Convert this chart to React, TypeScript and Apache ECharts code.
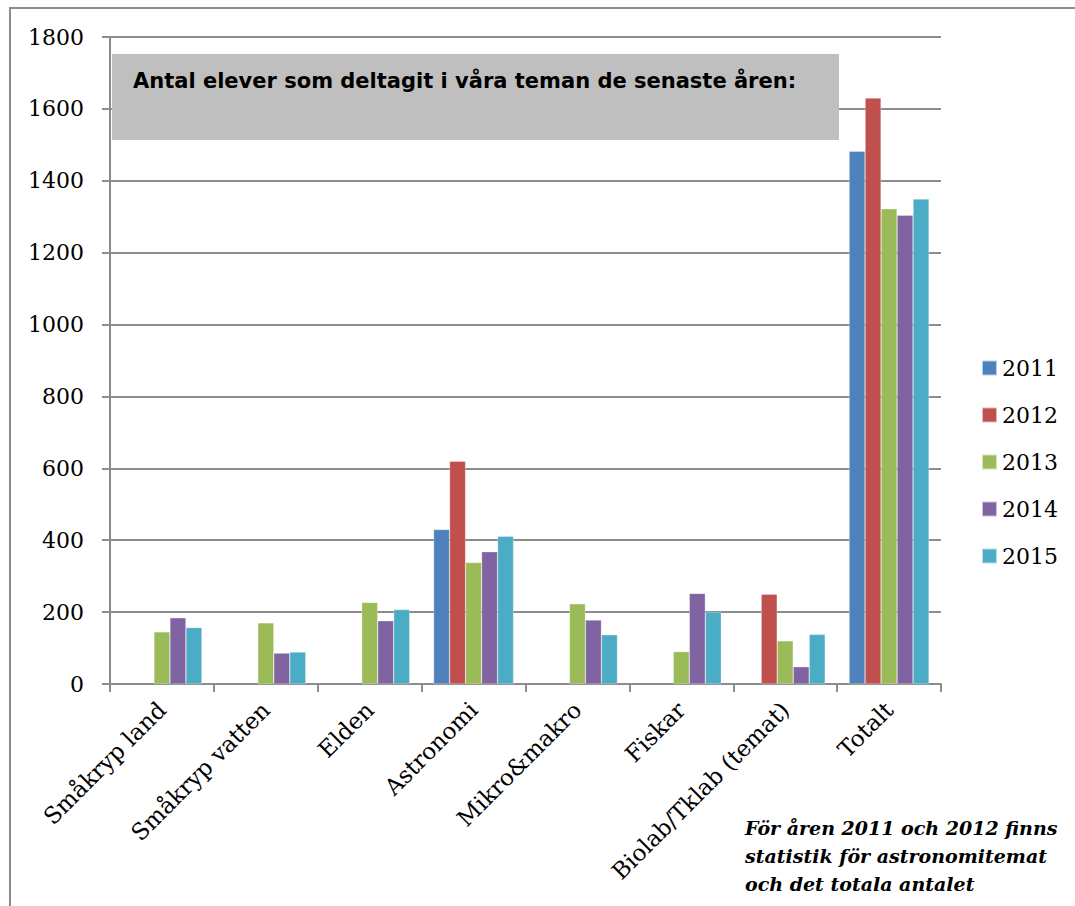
import React, { useEffect, useRef } from "react";
import * as echarts from "echarts";

const categories = [
  "Småkryp land",
  "Småkryp vatten",
  "Elden",
  "Astronomi",
  "Mikro&makro",
  "Fiskar",
  "Biolab/Tklab (temat)",
  "Totalt",
];
const years = ["2011", "2012", "2013", "2014", "2015"];
const v2011 = [null, null, null, 430, null, null, null, 1482];
const v2012 = [null, null, null, 620, null, null, 250, 1630];
const v2013 = [145, 170, 227, 338, 223, 90, 120, 1322];
const v2014 = [184, 86, 176, 368, 178, 252, 48, 1304];
const v2015 = [157, 89, 207, 411, 137, 200, 138, 1349];
const yTicks = { min: 0, max: 1800, interval: 200 };
const colors = ["#4f81bd", "#c0504d", "#9bbb59", "#8064a2", "#4bacc6"];
const titleText = "Antal elever som deltagit i våra teman de senaste åren:";
const noteLines = [
  "För åren 2011 och 2012 finns",
  "statistik för astronomitemat",
  "och det totala antalet",
];

export default function App() {
  const ref = useRef<HTMLDivElement>(null);
  useEffect(() => {
    if (!ref.current) return;
    const chart = echarts.init(ref.current, null, { renderer: "svg" });
    const seriesData = [v2011, v2012, v2013, v2014, v2015];
    const serif = "DejaVu Serif";
    chart.setOption({
      animation: false,
      color: colors,
      grid: { left: 110, top: 37, width: 831, height: 647, containLabel: false },
      legend: {
        orient: "vertical",
        left: 976,
        top: 352,
        itemWidth: 15,
        itemHeight: 15,
        itemGap: 25,
        icon: "rect",
        textStyle: { fontFamily: serif, fontSize: 22, color: "#000" },
        data: years,
      },
      xAxis: {
        type: "category",
        data: categories,
        axisLine: { show: true, lineStyle: { color: "#8c8c8c", width: 2 } },
        axisTick: { show: true, alignWithLabel: false, length: 8, lineStyle: { color: "#8c8c8c", width: 2 } },
        axisLabel: {
          interval: 0,
          rotate: 45,
          margin: 22,
          fontFamily: serif,
          fontSize: 23,
          color: "#000",
        },
        splitLine: { show: false },
      },
      yAxis: {
        type: "value",
        min: yTicks.min,
        max: yTicks.max,
        interval: yTicks.interval,
        axisLine: { show: true, lineStyle: { color: "#8c8c8c", width: 2 } },
        axisTick: { show: true, length: 8, lineStyle: { color: "#8c8c8c", width: 2 } },
        axisLabel: {
          margin: 26,
          fontFamily: serif,
          fontSize: 22,
          color: "#000",
          formatter: (v: number) => String(v),
        },
        splitLine: { show: true, lineStyle: { color: "#8c8c8c", width: 2 } },
      },
      series: years.map((y, i) => ({
        name: y,
        type: "bar",
        data: seriesData[i],
        barGap: "0%",
        barCategoryGap: "23%",
        itemStyle: { color: colors[i], borderColor: "rgba(255,255,255,0.6)", borderWidth: 0.5 },
      })),
      graphic: [
        {
          type: "rect",
          z: 0,
          silent: true,
          shape: { x: 10, y: 8, width: 1100, height: 950 },
          style: { fill: "none", stroke: "#8c8c8c", lineWidth: 2 },
        },
        {
          type: "rect",
          z: 10,
          shape: { x: 112, y: 54, width: 727, height: 86 },
          style: { fill: "#bfbfbf" },
        },
        {
          type: "text",
          z: 11,
          x: 133,
          y: 81,
          style: {
            text: titleText,
            fontFamily: "DejaVu Sans",
            fontSize: 21,
            fontWeight: "bold",
            fill: "#000",
            verticalAlign: "middle",
          },
        },
        ...noteLines.map((t, i) => ({
          type: "text",
          z: 11,
          x: 745,
          y: 828 + i * 28,
          style: {
            text: t,
            fontFamily: "DejaVu Serif",
            fontSize: 19,
            fontWeight: "bold",
            fontStyle: "italic",
            fill: "#000",
            verticalAlign: "middle",
          },
        })),
      ],
    });
    return () => chart.dispose();
  }, []);
  return (
    <div
      ref={ref}
      style={{ position: "absolute", left: 0, top: 0, width: 1075, height: 906, background: "#fff" }}
    />
  );
}
